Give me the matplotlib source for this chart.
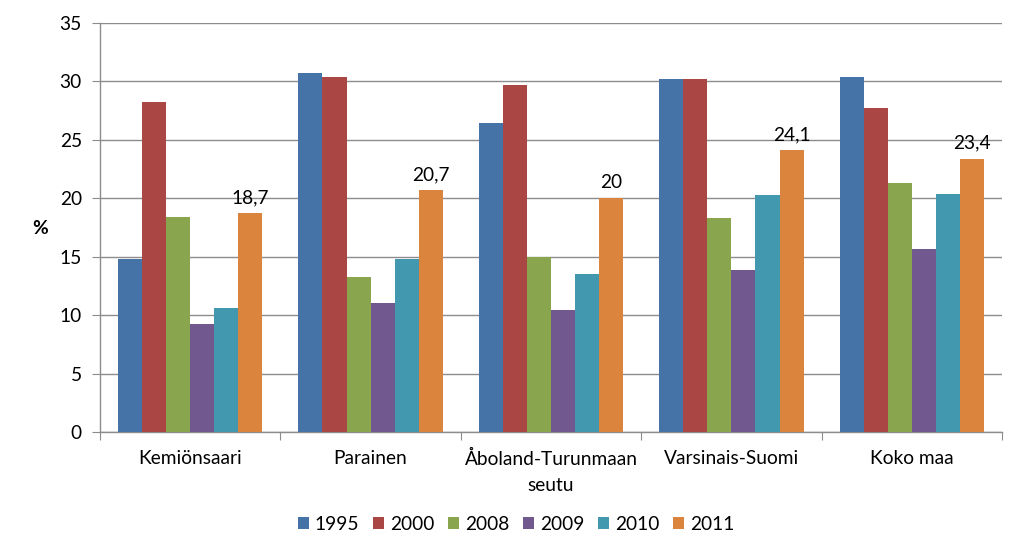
import matplotlib
matplotlib.use("Agg")
import matplotlib.pyplot as plt
import numpy as np

categories = ["Kemiönsaari", "Parainen", "Åboland-Turunmaan\nseutu", "Varsinais-Suomi", "Koko maa"]
years = ["1995", "2000", "2008", "2009", "2010", "2011"]
values = {
    "1995": [14.8, 30.7, 26.4, 30.2, 30.4],
    "2000": [28.2, 30.4, 29.7, 30.2, 27.7],
    "2008": [18.4, 13.3, 15.0, 18.3, 21.3],
    "2009": [9.2, 11.0, 10.4, 13.9, 15.7],
    "2010": [10.6, 14.8, 13.5, 20.3, 20.4],
    "2011": [18.7, 20.7, 20.0, 24.1, 23.4],
}
labels_2011 = ["18,7", "20,7", "20", "24,1", "23,4"]
colors = ["#4572A7", "#AA4643", "#89A54E", "#71588F", "#4198AF", "#DB843D"]

plt.rcParams['font.family'] = ['Lato', 'DejaVu Sans']
FS = 13.8

fig = plt.figure(figsize=(10.24, 5.58), dpi=100)
ax = fig.add_axes([100/1024, 1-432/558, 902/1024, 409/558])

n = len(years)
w = 0.8 / n
x = np.arange(len(categories))
for i, y in enumerate(years):
    pos = x - 0.4 + w * (i + 0.5)
    bars = ax.bar(pos, values[y], width=w, color=colors[i], label=y, zorder=3)
    if y == "2011":
        for b, lab in zip(bars, labels_2011):
            ax.text(b.get_x() + b.get_width()/2, b.get_height() + 0.6, lab,
                    ha='center', va='bottom', fontsize=FS, color='#000000')

ax.set_xlim(-0.5, len(categories) - 0.5)
ax.set_ylim(0, 35)
ax.set_yticks(np.arange(0, 36, 5))
ax.yaxis.grid(True, color='#8c8c8c', linewidth=1, zorder=0)
ax.set_axisbelow(True)
ax.set_xticks(np.arange(-0.5, len(categories)), minor=False)
ax.set_xticklabels([])
ax.set_xticks(x, minor=True)
ax.set_xticklabels(categories, minor=True, fontsize=FS, linespacing=1.6)
ax.tick_params(axis='x', which='minor', length=0, pad=13)
ax.tick_params(axis='x', which='major', length=6, color='#8c8c8c')
ax.tick_params(axis='y', length=6, color='#8c8c8c', labelsize=FS, pad=7)
for s in ['top', 'right']:
    ax.spines[s].set_visible(False)
for s in ['left', 'bottom']:
    ax.spines[s].set_color('#8c8c8c')
    ax.spines[s].set_linewidth(1)

fig.text(40/1024, 1-228/558, "%", ha='center', va='center', fontsize=FS, fontweight='bold')

leg = fig.legend(loc='center', bbox_to_anchor=(516/1024, 1-524/558), ncol=6, frameon=False,
                 fontsize=FS, handlelength=0.6, handleheight=0.6, handletextpad=0.3,
                 columnspacing=0.7)

fig.savefig("out.png", dpi=100)
